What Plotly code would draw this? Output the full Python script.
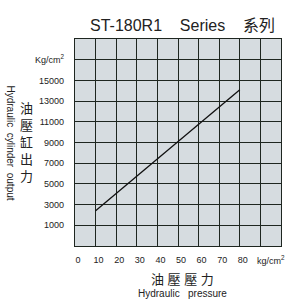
import plotly.graph_objects as go

# Data
pressure = [10, 80]          # kg/cm2
output = [2400, 14100]       # Kg/cm2 (cylinder output)

x_tickvals = [0, 10, 20, 30, 40, 50, 60, 70, 80, 90]
x_ticktext = ["0", "10", "20", "30", "40", "50", "60", "70", "80", ""]
y_tickvals = [1000, 3000, 5000, 7000, 9000, 11000, 13000, 15000, 17000]
y_ticktext = ["1000", "3000", "5000", "7000", "9000", "11000", "13000", "15000", "Kg/cm<sup>2</sup>"]

FONT = "Liberation Sans, Arial, Noto Sans CJK TC, sans-serif"
GRID = "#1e2620"

fig = go.Figure()
fig.add_trace(go.Scatter(x=pressure, y=output, mode="lines",
                         line=dict(color="#111111", width=1.3),
                         showlegend=False, hoverinfo="skip"))

fig.update_layout(
    width=300, height=305,
    margin=dict(l=75, r=19, t=39, b=59),
    paper_bgcolor="white",
    plot_bgcolor="#d6dce0",
    font=dict(family=FONT, color="#222222"),
    xaxis=dict(range=[0, 100], tickvals=x_tickvals, ticktext=x_ticktext,
               showgrid=True, gridcolor=GRID, gridwidth=1.4,
               showline=True, linecolor=GRID, linewidth=1.4, mirror=True,
               zeroline=False, ticks="", tickfont=dict(size=9, color="#222222"),
               ticklabelstandoff=5, ticklabelshift=3, fixedrange=True),
    yaxis=dict(range=[-1000, 19000], tickvals=y_tickvals, ticktext=y_ticktext,
               showgrid=True, gridcolor=GRID, gridwidth=1.4,
               showline=True, linecolor=GRID, linewidth=1.4, mirror=True,
               zeroline=False, ticks="", tickfont=dict(size=9, color="#222222"),
               ticklabelstandoff=8, fixedrange=True),
    annotations=[
        dict(text="ST-180R1    Series    系列", xref="paper", yref="paper",
             x=0.524, y=1.0, yshift=14, xanchor="center", yanchor="middle",
             showarrow=False,
             font=dict(size=16, color="#222222", family=FONT)),
        dict(text="kg/cm<sup>2</sup>", xref="x", yref="paper", x=95, y=0,
             yshift=-14, xanchor="center", yanchor="middle", showarrow=False,
             font=dict(size=9, color="#222222")),
        dict(text="油 壓 壓 力", xref="paper", yref="paper", x=0.524, y=0,
             yshift=-33, xanchor="center", yanchor="middle", showarrow=False,
             font=dict(size=13, color="#222222", family=FONT)),
        dict(text="Hydraulic   pressure", xref="paper", yref="paper", x=0.524, y=0,
             yshift=-47, xanchor="center", yanchor="middle", showarrow=False,
             font=dict(size=10, color="#222222", family=FONT)),
        dict(text="油<br>壓<br>缸<br>出<br>力", xref="paper", yref="paper",
             x=0, xshift=-49, y=0.50, xanchor="center", yanchor="middle",
             showarrow=False, align="center",
             font=dict(size=13, color="#222222", family=FONT)),
        dict(text="Hydraulic  cylinder  output", xref="paper", yref="paper",
             x=0, xshift=-65, y=0.5, xanchor="center", yanchor="middle",
             showarrow=False, textangle=90,
             font=dict(size=10, color="#222222", family=FONT)),
    ],
)

fig.write_html("out.html")
